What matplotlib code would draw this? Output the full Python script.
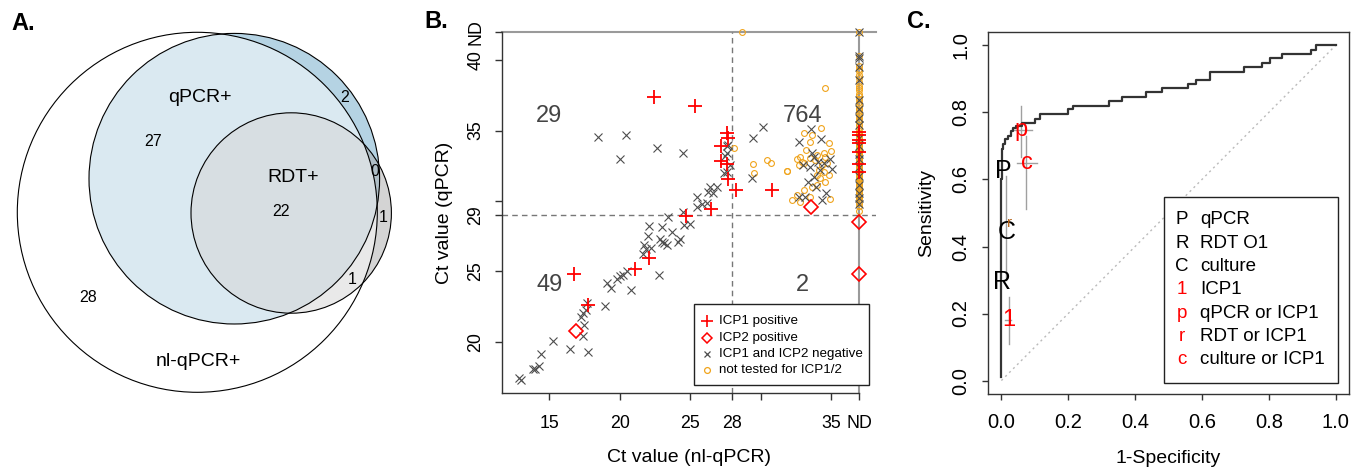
import matplotlib
matplotlib.use('Agg')
import matplotlib.pyplot as plt
from matplotlib.patches import Circle, Rectangle

plt.rcParams['font.family'] = ['Liberation Sans', 'DejaVu Sans']

W, H = 1365, 470
def fx(px):
    return px / W
def fy(py):
    return 1 - py / H

# ---------------- Panel A data (Venn counts) ----------------
venn_set_labels = ['qPCR+', 'RDT+', 'nl-qPCR+']
venn_counts = [27, 22, 2, 0, 1, 1, 28]

# ---------------- Panel B data ----------------
ND = 37      # x position used for "not detected" (nl-qPCR)
NDY = 42     # y position used for "not detected" (qPCR)

icp1_x = [22.46, 25.36, 27.63, 27.66, 27.2, 27.2, 27.63, 27.66, 28.27, 30.8,
          26.45, 24.7, 22.11, 21.05, 16.72, 17.77,
          ND, ND, ND, ND, ND, ND, ND]
icp1_y = [37.36, 36.75, 34.81, 34.45, 33.9, 32.86, 32.63, 31.54, 30.8, 30.78,
          29.45, 28.95, 25.92, 25.15, 24.78, 22.6,
          34.88, 34.69, 34.33, 34.1, 33.5, 32.6, 32.08]

icp2_x = [16.9, 33.55, ND, ND]
icp2_y = [20.77, 29.55, 28.53, 24.8]

neg_x = [12.87, 13.0, 13.82, 13.98, 14.27, 14.38, 15.28, 16.47, 17.77, 17.37,
         17.49, 17.25, 17.42, 17.61, 17.66, 18.98, 19.08, 19.36, 19.83, 20.02,
         20.21, 20.8, 20.5, 21.64, 21.73, 21.87, 22.04, 22.2, 22.06, 22.82,
         22.87, 22.99, 23.15, 23.34, 22.99, 23.41, 23.74, 24.12, 24.29, 24.48,
         24.57, 25.0, 25.47, 25.47, 25.83, 26.23, 26.26, 26.59, 26.42, 26.9,
         18.44, 20.47, 20.05, 22.63, 24.5,
         27.63, 27.6, 27.85, 27.4, 27.6, 27.5, 27.7,
         30.19, 29.48, 29.4,
         33.57, 32.7, 34.29, 33.65, 33.81, 34.05, 34.48, 34.9, 35.07, 33.0,
         33.48, 34.24, 33.34, 33.77, 33.95, 34.67, 34.4, 32.7, 33.18,
         ND, ND, ND, ND, ND, ND, ND, ND, ND, ND,
         ND, ND, ND, ND, ND, ND, ND, ND, ND]
neg_y = [17.39, 17.3, 18.05, 18.05, 18.28, 19.16, 20.06, 19.45, 19.28, 20.42,
         21.18, 21.77, 22.05, 22.29, 22.72, 22.53, 24.14, 23.83, 24.43, 24.66,
         24.73, 23.66, 25.04, 26.23, 26.87, 26.56, 27.51, 26.63, 28.22, 24.74,
         27.27, 27.1, 27.03, 26.87, 28.12, 28.84, 27.81, 27.1, 27.27, 29.19,
         28.29, 28.36, 30.3, 29.59, 29.78, 29.87, 30.66, 30.54, 31.0, 30.96,
         34.57, 34.66, 32.98, 33.74, 33.43,
         33.9, 33.43, 32.56, 32.0, 32.05, 33.2, 34.0,
         35.24, 34.45, 31.6,
         35.09, 34.17, 34.38, 33.39, 33.11, 32.8, 32.73, 32.97, 32.26, 32.56,
         32.44, 32.2, 31.37, 31.73, 30.97, 30.59, 30.07, 30.3, 30.26,
         42.0, 40.26, 40.14, 39.5, 38.6, 37.2, 36.5, 35.9, 35.4, 34.5,
         33.9, 33.3, 33.0, 32.4, 31.8, 31.1, 30.6, 30.2, 29.8]

nt_x = [28.7, 34.6, 28.1, 29.5, 29.57, 30.47, 30.76, 31.87,
        34.29, 33.1, 33.65, 33.48, 34.83, 34.48, 35.0, 32.58, 32.82, 32.94,
        32.7, 33.06, 34.0, 33.48, 34.36, 34.71, 34.12, 34.48, 34.0, 34.24,
        34.6, 33.65, 34.0, 34.83, 31.87, 33.06, 32.58, 33.53, 34.95, 32.22,
        32.82, 33.2, 33.9, 34.55,
        ND, ND, ND, ND, ND, ND, ND, ND, ND, ND, ND, ND, ND, ND, ND, ND,
        ND, ND, ND, ND, ND, ND, ND, ND, ND, ND, ND, ND, ND, ND, ND, ND,
        ND, ND, ND, ND, ND, ND, ND, ND, ND, ND, ND, ND, ND, ND, ND, ND,
        ND, ND, ND, ND, ND, ND, ND, ND, ND, ND, ND, ND, ND, ND, ND, ND,
        ND, ND, ND, ND, ND, ND]
nt_y = [42.0, 38.0, 33.74, 32.6, 31.98, 32.9, 32.67, 32.1,
        35.16, 34.81, 34.69, 34.21, 34.14, 33.43, 33.57, 32.96, 33.15, 32.8,
        32.56, 32.73, 33.27, 33.03, 32.56, 32.73, 32.2, 32.08, 31.85, 31.61,
        31.37, 31.02, 31.14, 31.85, 32.15, 30.78, 30.42, 30.3, 30.14, 30.07,
        29.95, 33.6, 32.9, 33.1,
        29.3, 29.65, 29.85, 30.05, 30.15, 30.3, 30.45, 30.55, 30.7, 30.85, 30.95, 31.05, 31.2, 31.3, 31.45, 31.55,
        31.65, 31.8, 31.9, 32.0, 32.15, 32.25, 32.35, 32.5, 32.6, 32.7, 32.85, 32.95, 33.05, 33.2, 33.3, 33.4,
        33.55, 33.65, 33.75, 33.9, 34.0, 34.15, 34.25, 34.4, 34.5, 34.65, 34.8, 35.0, 35.15, 35.4, 35.6, 35.85,
        36.05, 36.2, 36.45, 36.6, 36.85, 37.0, 37.25, 37.45, 37.6, 37.85, 38.05, 38.2, 38.45, 38.7, 38.95, 39.2,
        39.4, 39.55, 40.3, 42.0, 36.3, 35.7]

quad_counts = ['29', '764', '49', '2']
quad_x = [15, 33, 15, 33]
quad_y = [36, 36, 24, 24]

# ---------------- Panel C data (ROC) ----------------
roc_fpr = [0.0, 0.0, 0.001, 0.003, 0.006, 0.012, 0.02, 0.028, 0.036, 0.045,
           0.062, 0.1, 0.115, 0.198, 0.215, 0.323, 0.36, 0.432, 0.482, 0.558,
           0.582, 0.625, 0.726, 0.779, 0.804, 0.841, 0.925, 0.941, 1.0]
roc_tpr = [0.01, 0.6, 0.66, 0.69, 0.705, 0.72, 0.73, 0.745, 0.755, 0.76,
           0.77, 0.78, 0.795, 0.81, 0.82, 0.833, 0.845, 0.86, 0.872, 0.885,
           0.897, 0.922, 0.935, 0.949, 0.962, 0.975, 0.987, 1.0, 1.0]

test_letters = ['P', 'C', 'R', '1', 'p', 'c', 'r']
test_fpr = [0.005, 0.015, 0.003, 0.022, 0.06, 0.077, 0.024]
test_sens = [0.625, 0.442, 0.294, 0.18, 0.748, 0.65, 0.47]
test_colors = ['black', 'black', 'black', 'red', 'red', 'red', '#b5651d']
test_sizes = [18, 18, 18, 17, 17, 17, 11]

ci_sens_x = [0.06, 0.075, 0.022, 0.014]
ci_sens_lo = [0.668, 0.513, 0.11, 0.30]
ci_sens_hi = [0.82, 0.73, 0.25, 0.61]
ci_fpr_y = [0.748, 0.65, 0.18]
ci_fpr_lo = [0.037, 0.047, 0.01]
ci_fpr_hi = [0.092, 0.107, 0.03]

legend_letters = ['P', 'R', 'C', '1', 'p', 'r', 'c']
legend_names = ['qPCR', 'RDT O1', 'culture', 'ICP1', 'qPCR or ICP1',
                'RDT or ICP1', 'culture or ICP1']
legend_colors = ['black', 'black', 'black', 'red', 'red', 'red', 'red']

fig = plt.figure(figsize=(W / 100, H / 100), dpi=100)

# ================= Panel A =================
axA = fig.add_axes([0, 0, 420 / W, 1])
axA.set_xlim(0, 420)
axA.set_ylim(470, 0)
axA.axis('off')
c_q = ((234.3, 178.7), 145.3)
c_r = ((291.2, 213.0), 100.2)
c_n = ((197.3, 212.3), 180.0)
axA.add_patch(Circle(*c_q, fc='#b5d3e3', ec='none'))
axA.add_patch(Circle(*c_r, fc=(0.667, 0.667, 0.667, 0.5), ec='none'))
axA.add_patch(Circle(*c_n, fc=(1, 1, 1, 0.5), ec='none'))
for c in (c_q, c_r, c_n):
    axA.add_patch(Circle(*c, fc='none', ec='black', lw=0.8))
set_pos = [(200, 97), (293, 178), (198, 361)]
for lab, (px, py) in zip(venn_set_labels, set_pos):
    axA.text(px, py, lab, fontsize=14, ha='center', va='center')
count_pos = [(153, 142), (281, 212), (345, 98), (375, 172), (383, 217), (352, 280), (88, 297)]
for n, (px, py) in zip(venn_counts, count_pos):
    axA.text(px, py, str(n), fontsize=11.5, ha='center', va='center')

fig.text(fx(11), fy(23), 'A.', fontsize=17, fontweight='bold', ha='left', va='center')
fig.text(fx(424), fy(21), 'B.', fontsize=17, fontweight='bold', ha='left', va='center')
fig.text(fx(907), fy(22), 'C.', fontsize=17, fontweight='bold', ha='left', va='center')

# ================= Panel B =================
axB = fig.add_axes([fx(502), fy(393), (876 - 502) / W, (393 - 32) / H])
xmin, xmax = 11.64, 38.2
ymin, ymax = 16.36, NDY
axB.set_xlim(xmin, xmax)
axB.set_ylim(ymin, ymax)
for s in ('top', 'right'):
    axB.spines[s].set_visible(False)
axB.spines['bottom'].set_bounds(xmin, ND)
for s in ('left', 'bottom'):
    axB.spines[s].set_color('#333333')
    axB.spines[s].set_linewidth(1.0)

axB.plot([xmin, xmax], [NDY, NDY], color='#9a9a9a', lw=1.5, clip_on=False, zorder=1)
axB.plot([ND, ND], [ymin, NDY], color='#9a9a9a', lw=1.5, clip_on=False, zorder=1)
axB.plot([xmin, xmax], [29, 29], color='#777777', lw=1.0, ls=(0, (4, 3)), zorder=1)
axB.plot([28, 28], [ymin, NDY], color='#777777', lw=1.0, ls=(0, (4, 3)), zorder=1)

axB.plot(nt_x, nt_y, 'o', ms=4.2, mfc='none', mec='#f0a41c', mew=0.8, ls='none', clip_on=False, zorder=2)
axB.plot(neg_x, neg_y, 'x', ms=5.2, color='#4d4d4d', mew=0.8, ls='none', clip_on=False, zorder=3)
axB.plot(icp2_x, icp2_y, 'D', ms=6.8, mfc='none', mec='#ff0000', mew=1.2, ls='none', clip_on=False, zorder=4)
axB.plot(icp1_x, icp1_y, '+', ms=9.5, color='#ff0000', mew=1.3, ls='none', clip_on=False, zorder=5)

for t, qx, qy in zip(quad_counts, quad_x, quad_y):
    axB.text(qx, qy, t, fontsize=17, color='#444444', ha='center', va='center')

axB.set_xticks([15, 20, 25, 28, 30, 35, ND])
axB.set_xticklabels(['15', '20', '25', '28', '', '35', 'ND'])
axB.set_yticks([20, 25, 29, 30, 35, 40, NDY])
axB.set_yticklabels(['20', '25', '29', '', '35', '40', 'ND'], rotation=90, va='center')
axB.tick_params(axis='both', direction='out', length=4.8, width=1.0, color='#333333', labelsize=12.8)
axB.tick_params(axis='x', pad=11)
axB.tick_params(axis='y', pad=8)
axB.set_xlabel('Ct value (nl-qPCR)', fontsize=14, labelpad=12)
axB.set_ylabel('Ct value (qPCR)', fontsize=14, labelpad=10)

# legend B (manual)
axB.add_patch(Rectangle((fx(694), fy(385)), (869 - 694) / W, (385 - 304) / H,
                        transform=fig.transFigure, fc='white', ec='#222222', lw=1.0,
                        clip_on=False, zorder=10))
legB_rows = [321, 337.7, 354, 370]
legB_labels = ['ICP1 positive', 'ICP2 positive', 'ICP1 and ICP2 negative', 'not tested for ICP1/2']
legB_styles = [dict(marker='+', ms=8, color='#ff0000', mew=1.2),
               dict(marker='D', ms=5.5, mfc='none', mec='#ff0000', mew=1.1),
               dict(marker='x', ms=5, color='#4d4d4d', mew=0.9),
               dict(marker='o', ms=4.2, mfc='none', mec='#f0a41c', mew=0.9)]
for ry, lab, st in zip(legB_rows, legB_labels, legB_styles):
    axB.plot([fx(706.7)], [fy(ry)], ls='none', transform=fig.transFigure, clip_on=False, zorder=11, **st)
    axB.text(fx(719), fy(ry), lab, transform=fig.transFigure, fontsize=9.6,
             ha='left', va='center', zorder=11)

# ================= Panel C =================
axC = fig.add_axes([fx(988), fy(394), (1349 - 988) / W, (394 - 32) / H])
axC.set_xlim(-0.04, 1.04)
axC.set_ylim(-0.04, 1.04)
for s in axC.spines.values():
    s.set_color('#333333')
    s.set_linewidth(1.0)
axC.plot([0, 1], [0, 1], color='#bbbbbb', lw=1.0, ls=(0, (1.5, 2.5)), zorder=1)
axC.plot(roc_fpr, roc_tpr, drawstyle='steps-post', color='#333333', lw=1.6, zorder=3)
for cx, lo, hi in zip(ci_sens_x, ci_sens_lo, ci_sens_hi):
    axC.plot([cx, cx], [lo, hi], color='#a0a0a0', lw=1.0, zorder=2)
for cy, lo, hi in zip(ci_fpr_y, ci_fpr_lo, ci_fpr_hi):
    axC.plot([lo, hi], [cy, cy], color='#a0a0a0', lw=1.0, zorder=2)
for t, xx, yy, col, sz in zip(test_letters, test_fpr, test_sens, test_colors, test_sizes):
    axC.text(xx, yy, t, color=col, fontsize=sz, ha='center', va='center', zorder=4)

ticks = [0, 0.2, 0.4, 0.6, 0.8, 1.0]
tick_labels = ['0.0', '0.2', '0.4', '0.6', '0.8', '1.0']
axC.set_xticks(ticks)
axC.set_xticklabels(tick_labels)
axC.set_yticks(ticks)
axC.set_yticklabels(tick_labels, rotation=90, va='center')
axC.tick_params(axis='both', direction='out', length=4.5, width=1.0, color='#333333', labelsize=14.5)
axC.tick_params(axis='x', pad=9)
axC.tick_params(axis='y', pad=8)
axC.set_xlabel('1-Specificity', fontsize=14, labelpad=13)
axC.set_ylabel('Sensitivity', fontsize=14, labelpad=12)

# legend C (manual)
axC.add_patch(Rectangle((fx(1164), fy(383)), (1338 - 1164) / W, (383 - 197) / H,
                        transform=fig.transFigure, fc='white', ec='#222222', lw=1.0,
                        clip_on=False, zorder=10))
legC_rows = [220, 243.3, 266.7, 290, 313.3, 336.7, 360]
for ry, letter, name, col in zip(legC_rows, legend_letters, legend_names, legend_colors):
    axC.text(fx(1182), fy(ry), letter, transform=fig.transFigure, color=col, fontsize=13.5,
             ha='center', va='center', zorder=11)
    axC.text(fx(1200), fy(ry), name, transform=fig.transFigure, color='black', fontsize=13.5,
             ha='left', va='center', zorder=11)

fig.savefig('out.png', dpi=100)
